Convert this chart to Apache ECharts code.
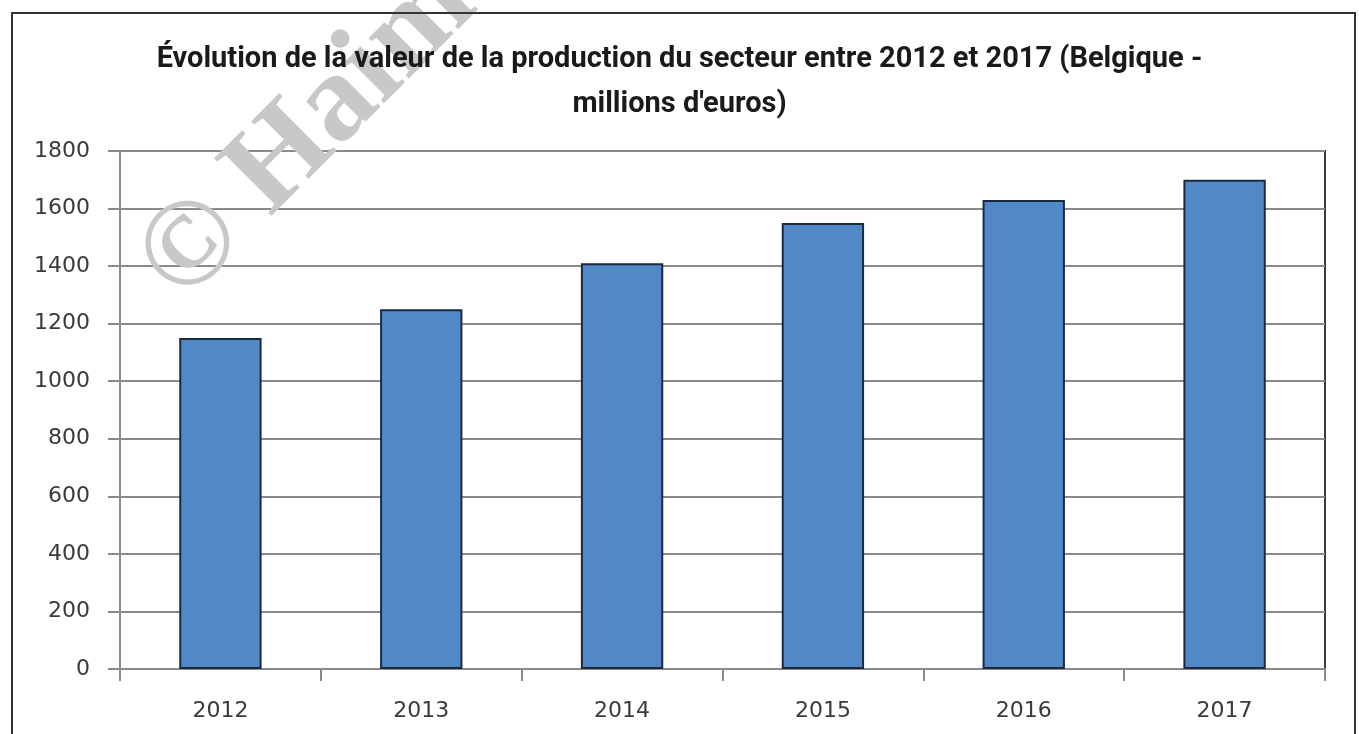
<!DOCTYPE html>
<html><head><meta charset="utf-8">
<script src="https://cdn.jsdelivr.net/npm/echarts@6/dist/echarts.min.js"></script>
<style>html,body{margin:0;padding:0;background:#fff}#c{width:1359px;height:734px}</style>
</head><body><div id="c"></div>
<script>
const titleText = "Évolution de la valeur de la production du secteur entre 2012 et 2017 (Belgique -\nmillions d'euros)";
const categories = ['2012','2013','2014','2015','2016','2017'];
const values = [1150, 1250, 1410, 1550, 1630, 1700];
const yTicks = {min: 0, max: 1800, interval: 200};
const watermark = '© Haim';

const chart = echarts.init(document.getElementById('c'), null, {renderer: 'canvas'});
chart.setOption({
  animation: false,
  backgroundColor: '#fff',
  title: {
    text: titleText, z: 20,
    left: 'center', top: 32,
    textStyle: {fontFamily: 'Roboto, Open Sans, sans-serif', fontWeight: 'bold', fontSize: 29, color: '#1a1a1a', lineHeight: 45}
  },
  grid: {left: 120, top: 151, right: 34, bottom: 65, show: true, borderColor: '#3a3a3a', borderWidth: 2},
  xAxis: {
    type: 'category', data: categories,
    axisLine: {lineStyle: {color: '#8a8a8a', width: 2}},
    axisTick: {show: true, length: 12, alignWithLabel: false, lineStyle: {color: '#8a8a8a', width: 2}},
    axisLabel: {margin: 31, fontSize: 22, color: '#3a3a3a', fontFamily: 'DejaVu Sans, sans-serif'}
  },
  yAxis: {
    type: 'value', min: yTicks.min, max: yTicks.max, interval: yTicks.interval,
    axisLine: {show: true, lineStyle: {color: '#8a8a8a', width: 2}},
    axisTick: {show: true, length: 12, lineStyle: {color: '#8a8a8a', width: 2}},
    splitLine: {lineStyle: {color: '#8a8a8a', width: 2}},
    axisLabel: {margin: 30, fontSize: 22, color: '#3a3a3a', fontFamily: 'DejaVu Sans, sans-serif',
      formatter: function (v) { return String(v); }}
  },
  series: [{
    type: 'bar', data: values, barWidth: '41%',
    itemStyle: {color: '#5089c6', borderColor: '#1c2a40', borderWidth: 2}
  }],
  graphic: [
    {type: 'rect', z: 100, silent: true, shape: {x: 12, y: 13, width: 1343, height: 800},
     style: {fill: 'none', stroke: '#333', lineWidth: 2}},
    {type: 'text', z: 5, silent: true, x: 160, y: 282, rotation: 45 * Math.PI / 180,
     style: {text: watermark, fill: '#c8c8c8', verticalAlign: 'middle', align: 'left',
       font: 'bold 124px "Liberation Serif", "DejaVu Serif", serif'}}
  ]
});
</script></body></html>
